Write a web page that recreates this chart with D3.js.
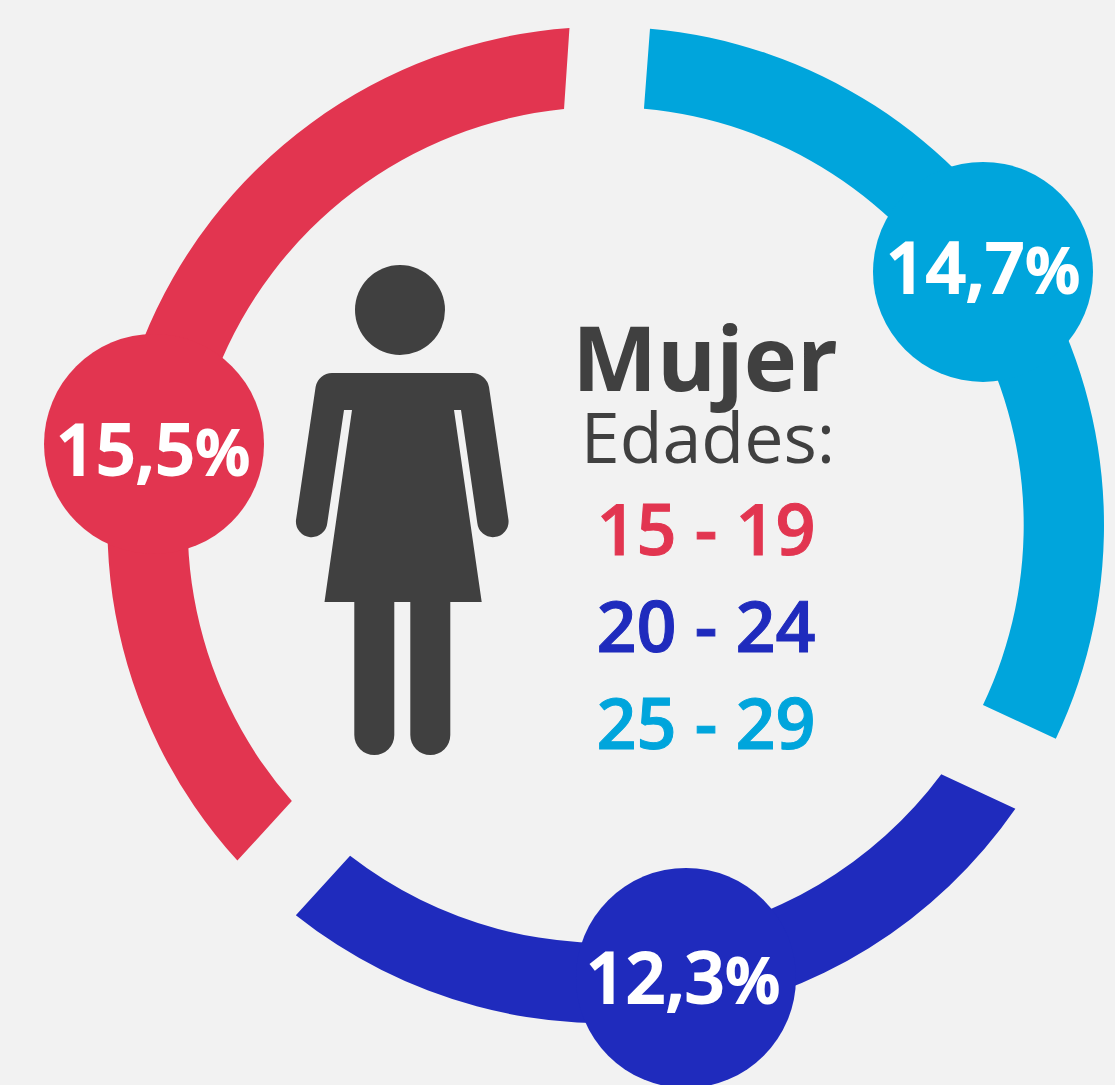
<!DOCTYPE html>
<html>
<head>
<meta charset="utf-8">
<script src="https://cdn.jsdelivr.net/npm/d3@7"></script>
<style>
  html, body { margin: 0; padding: 0; background: #f2f2f2; overflow: hidden; }
  svg { display: block; }
  text { font-family: "Open Sans", sans-serif; }
</style>
</head>
<body>
<svg id="chart" width="1115" height="1085"></svg>
<script>
// age groups, in the order of the legend
const ageGroups = ['15 - 19', '20 - 24', '25 - 29'];
const percentages = [15.5, 12.3, 14.7];
const groupColors = ['#e23550', '#1f2bbd', '#00a5dc'];

// where each band starts and ends, degrees clockwise from 12 o'clock
const outerStart = [227.66, 124.7, 5.1];
const outerEnd = [355.83, 218.45, 115.4];
const innerStart = [228.66, 126.6, 5.25];
const innerEnd = [354.28, 217.7, 115.5];
// bubble position along the ring
const bubbleAngle = [280.17, 169.95, 56.15];
const bubbleDistance = [458.9, 460, 454.3];

const titleText = 'Mujer';
const subtitleText = 'Edades:';

const width = 1115;
const height = 1085;
const center = { x: 605.7, y: 525 };
const ringOuter = 498.3;
const ringInner = 418;
const bubbleRadius = 110;
// labels are not quite centred in their bubbles
const labelDx = [-1, -3, 0];
const labelDy = [31, 25, 21];

const svg = d3.select('#chart');
svg.append('rect')
    .attr('width', width)
    .attr('height', height)
    .attr('fill', '#f2f2f2');

const angleScale = d3.scaleLinear()
  .domain([0, 360])
  .range([-Math.PI / 2, 3 * Math.PI / 2]);

const ring = svg.append('g')
    .attr('class', 'ring')
    .attr('transform', `translate(${center.x},${center.y})`);

// d3.arc only does radial or symmetric ends, these bands have slanted ends
const bandPath = i => {
  const p = d3.path();
  p.arc(0, 0, ringOuter, angleScale(outerStart[i]), angleScale(outerEnd[i]));
  p.arc(0, 0, ringInner, angleScale(innerEnd[i]), angleScale(innerStart[i]), true);
  p.closePath();
  return p.toString();
};

ring.selectAll('.band').data(ageGroups)
  .enter().append('path')
    .attr('class', 'band')
    .attr('d', (d, i) => bandPath(i))
    .attr('fill', (d, i) => groupColors[i]);

const bubblePos = i => d3.pointRadial(bubbleAngle[i] * Math.PI / 180, bubbleDistance[i]);
const formatPct = v => v.toFixed(1).replace('.', ',');

ring.selectAll('.bubble').data(percentages)
  .enter().append('circle')
    .attr('class', 'bubble')
    .attr('cx', (d, i) => bubblePos(i)[0])
    .attr('cy', (d, i) => bubblePos(i)[1])
    .attr('r', bubbleRadius)
    .attr('fill', (d, i) => groupColors[i]);

// semibold with a thin outline comes closest to the weight in the reference
const pct = ring.selectAll('.pct').data(percentages)
  .enter().append('text')
    .attr('class', 'pct')
    .attr('x', (d, i) => bubblePos(i)[0] + labelDx[i])
    .attr('y', (d, i) => bubblePos(i)[1] + labelDy[i])
    .attr('text-anchor', 'middle')
    .attr('font-size', 70)
    .attr('font-weight', 600)
    .attr('stroke', '#fff')
    .attr('stroke-width', 2)
    .attr('fill', '#fff');
pct.append('tspan').text(formatPct);
// the % sign is set a bit smaller than the digits
pct.append('tspan').attr('font-size', 64).text('%');

// pictogram
const figure = svg.append('g').attr('class', 'figure').attr('fill', '#404040');
figure.append('circle')
    .attr('cx', 400)
    .attr('cy', 310)
    .attr('r', 45);
figure.append('path')
    .attr('d', 'M332,373 L472,373 A17,17 0 0 1 489,387 L508.5,520 A15.6,15.6 0 0 1 477.3,523 ' +
      'L461,410 L454,410 L481.7,602 L450.3,602 L450.3,735 A20,20 0 0 1 410.3,735 L410.3,602 ' +
      'L394.3,602 L394.3,735 A20,20 0 0 1 354.3,735 L354.3,602 L324.5,602 L352,410 L344,410 ' +
      'L327.3,523 A15.6,15.6 0 0 1 296,520 L315.6,387 A17,17 0 0 1 332,373 Z');

// text block in the middle
svg.append('text')
    .attr('x', 705)
    .attr('y', 391)
    .attr('text-anchor', 'middle')
    .attr('font-size', 90)
    .attr('font-weight', 700)
    .attr('fill', '#404040')
    .text(titleText);

svg.append('text')
    .attr('x', 708)
    .attr('y', 463)
    .attr('text-anchor', 'middle')
    .attr('font-size', 70)
    .attr('font-weight', 400)
    .attr('fill', '#404040')
    .text(subtitleText);

const legendY = d3.scalePoint()
  .domain(ageGroups)
  .range([555, 749]);

svg.selectAll('.age').data(ageGroups)
  .enter().append('text')
    .attr('class', 'age')
    .attr('x', 706)
    .attr('y', d => legendY(d))
    .attr('text-anchor', 'middle')
    .attr('font-size', 70)
    .attr('font-weight', 600)
    .attr('stroke', (d, i) => groupColors[i])
    .attr('stroke-width', 1)
    .attr('fill', (d, i) => groupColors[i])
    .text(d => d);
</script>
</body>
</html>
